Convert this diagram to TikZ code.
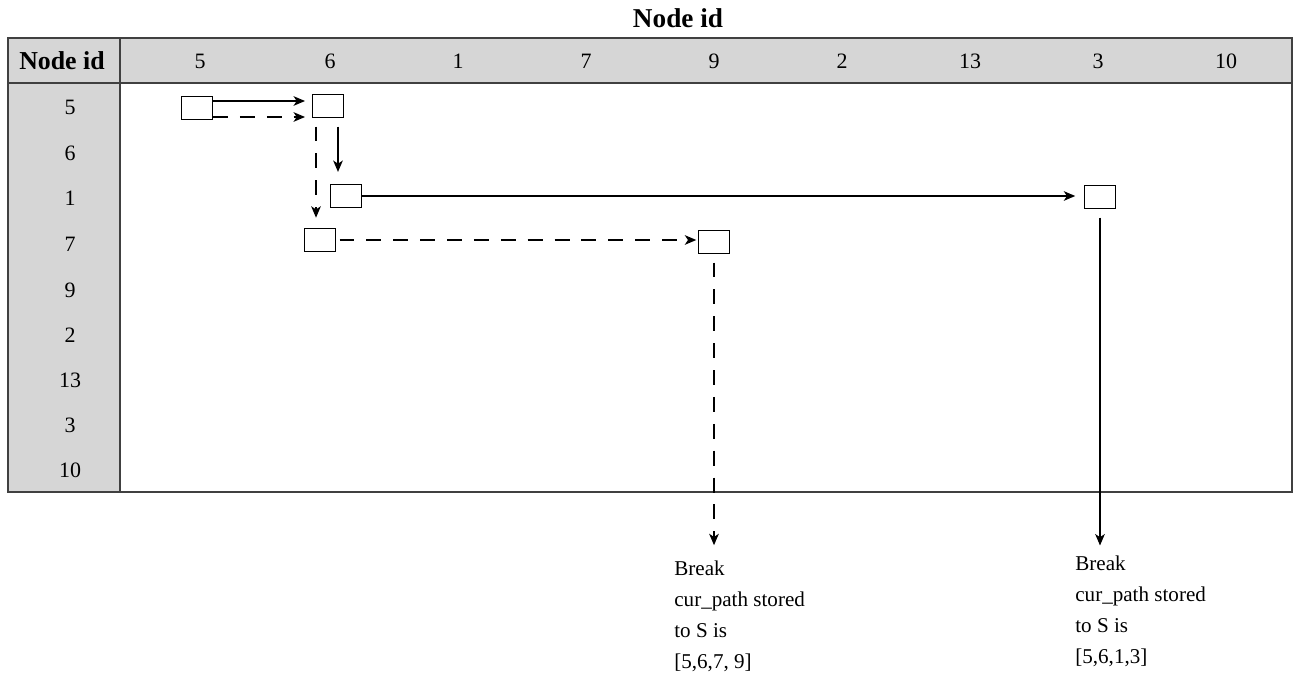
\documentclass[tikz,border=0pt]{standalone}
\usepackage{fontspec}
\setmainfont{Liberation Serif}
\usepackage{tikz}
\usetikzlibrary{positioning, arrows.meta}
\definecolor{headgray}{RGB}{214,214,214}

\begin{document}
\begin{tikzpicture}[
        x=0.02cm, y=-0.02cm,
        idtext/.style={inner sep=0pt, font=\fontsize{12.5}{15}\selectfont},
        boldtext/.style={inner sep=0pt, font=\fontsize{14.7}{17}\selectfont\bfseries},
        note/.style={inner sep=0pt, align=left, anchor=north west, font=\fontsize{12}{17.6}\selectfont},
        cell/.style={draw, rectangle, minimum width=0.62cm, minimum height=0.45cm, inner sep=0pt, line width=0.6pt},
        grid/.style={draw=black!75, line width=1pt},
        arrow/.style={->, >={Stealth[length=6.5pt, width=5.5pt, inset=1.8pt]}, semithick},
        dasharrow/.style={arrow, dash pattern=on 8.5pt off 6.8pt}
    ]
    \useasboundingbox (0,0) rectangle (1296,686);

    % Tabella: intestazione e colonna grigie
    \fill[headgray] (8,38) rectangle (1292,83);
    \fill[headgray] (8,83) rectangle (120,492);
    \draw[grid] (8,38) rectangle (1292,492);
    \draw[grid] (8,83) -- (1292,83);
    \draw[grid] (120,38) -- (120,492);

    % Titolo
    \node[boldtext, font=\fontsize{15.5}{18}\selectfont\bfseries] (title) at (678,18) {Node id};
    \node[boldtext] (corner) at (62,61) {Node id};

    % Intestazioni di colonna
    \node[idtext] (h5) at (200,61) {5};
    \node[idtext] (h6) at (330,61) {6};
    \node[idtext] (h1) at (458,61) {1};
    \node[idtext] (h7) at (586,61) {7};
    \node[idtext] (h9) at (714,61) {9};
    \node[idtext] (h2) at (842,61) {2};
    \node[idtext] (h13) at (970,61) {13};
    \node[idtext] (h3) at (1098,61) {3};
    \node[idtext] (h10) at (1226,61) {10};

    % Intestazioni di riga
    \node[idtext] (r5) at (70,107) {5};
    \node[idtext] (r6) at (70,153) {6};
    \node[idtext] (r1) at (70,198) {1};
    \node[idtext] (r7) at (70,244) {7};
    \node[idtext] (r9) at (70,290) {9};
    \node[idtext] (r2) at (70,335) {2};
    \node[idtext] (r13) at (70,380) {13};
    \node[idtext] (r3) at (70,425) {3};
    \node[idtext] (r10) at (70,470) {10};

    % Caselle del percorso
    \node[cell] (c55) at (197,108) {};
    \node[cell] (c56) at (328,106) {};
    \node[cell] (c16) at (346,196) {};
    \node[cell] (c76) at (320,240) {};
    \node[cell] (c79) at (714,242) {};
    \node[cell] (c13) at (1100,197) {};

    % Testi finali
    \node[note] (brk9) at (674,561) {Break\\cur\_path stored\\to S is\\{}[5,6,7, 9]};
    \node[note] (brk3) at (1075,556) {Break\\cur\_path stored\\to S is\\{}[5,6,1,3]};

    % Collegamenti orizzontali
    \draw[arrow, shorten >=4pt] ([yshift=0.14cm]c55.east) -- ([yshift=0.14cm]c55.east -| c56.west);
    \draw[dasharrow, shorten >=4pt] ([yshift=-0.18cm]c55.east) -- ([yshift=-0.18cm]c55.east -| c56.west);
    \draw[arrow, shorten >=5pt] (c16.east) -- (c16.east -| c13.west);
    \draw[dasharrow, shorten <=2pt, shorten >=1pt] (c76.east) -- (c76.east -| c79.west);

    % Collegamenti verticali
    \draw[arrow, shorten <=5pt, shorten >=7pt] ([xshift=0.2cm]c56.south) -- ([xshift=0.2cm]c56.south |- c16.north);
    \draw[dasharrow, shorten <=5pt, shorten >=6pt] ([xshift=-0.24cm]c56.south) -- ([xshift=-0.24cm]c56.south |- c76.north);
    \draw[dasharrow, shorten <=5pt, shorten >=9pt] (c79.south) -- (c79.south |- brk9.north);
    \draw[arrow, shorten <=5pt, shorten >=6pt] (c13.south) -- (c13.south |- brk3.north);

\end{tikzpicture}
\end{document}
